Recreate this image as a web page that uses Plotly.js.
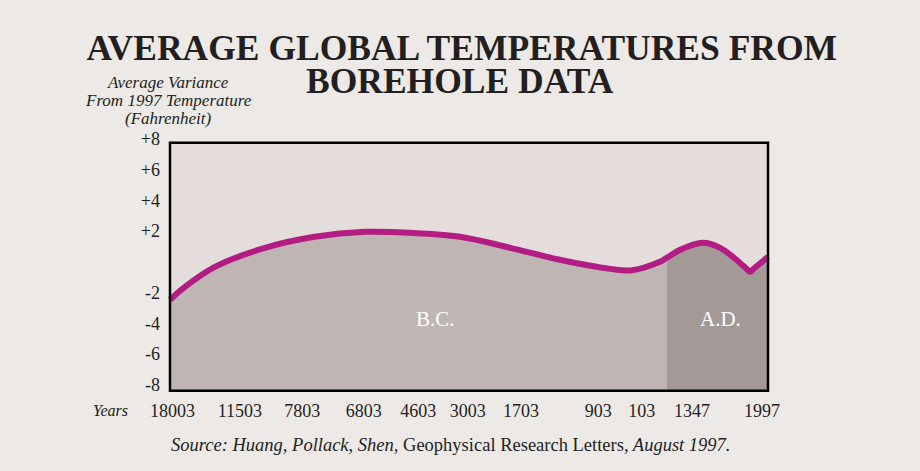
<!DOCTYPE html>
<html>
<head>
<meta charset="utf-8">
<script src="https://cdn.plot.ly/plotly-3.0.1.min.js"></script>
<style>html,body{margin:0;padding:0;background:#ede9e6;}</style>
</head>
<body>
<div id="chart" style="width:920px;height:471px;"></div>
<script>
// Axis positions are on a 0–100 scale across the (non-uniform) time axis
const yearLabels = ["18003","11503","7803","6803","4603","3003","1703","903","103","1347","1997"];
const yearPos    = [0.4, 11.7, 22.1, 32.4, 41.5, 49.8, 58.7, 71.6, 78.9, 87.3, 99.0];

const yTickVals  = [-8, -6, -4, -2, 2, 4, 6, 8];
const yTickText  = ["-8", "-6", "-4", "-2", "+2", "+4", "+6", "+8"];

// Temperature curve (variance from 1997, °F), B.C. part and A.D. part
const bcPos  = [0, 2.5, 7.5, 15.9, 24.2, 32.6, 40.1, 48.5, 56.9, 65.2, 73.6, 77.3, 81.9, 83.1];
const bcTemp = [-2.47, -1.63, -0.33, 0.91, 1.63, 1.95, 1.89, 1.63, 0.91, 0.13, -0.46, -0.55, 0.0, 0.27];
const adPos  = [83.1, 85.3, 89.1, 92.0, 94.5, 96.4, 97.0, 97.6, 100];
const adTemp = [0.27, 0.78, 1.24, 0.91, 0.2, -0.45, -0.65, -0.45, 0.33];

const xMin = 0, xMax = 100, yBottom = -8.39, yTop = 7.74, eraSplit = 83.1;

const serif = "Liberation Serif, Times New Roman, serif";
const ink = '#231f20';
const lineColor = "#b31d83";

const allPos = bcPos.concat(adPos.slice(1));
const allTemp = bcTemp.concat(adTemp.slice(1));

const traces = [
  {x:[xMin, eraSplit], y:[yBottom, yBottom], mode:'lines', line:{width:0}, hoverinfo:'skip', showlegend:false},
  {x:bcPos, y:bcTemp, mode:'lines', line:{width:0, shape:'spline'}, fill:'tonexty', fillcolor:'#bfb5b3', hoverinfo:'skip', showlegend:false},
  {x:[eraSplit, xMax], y:[yBottom, yBottom], mode:'lines', line:{width:0}, hoverinfo:'skip', showlegend:false},
  {x:adPos, y:adTemp, mode:'lines', line:{width:0, shape:'spline'}, fill:'tonexty', fillcolor:'#a39a98', hoverinfo:'skip', showlegend:false},
  {x:allPos, y:allTemp, mode:'lines', line:{width:6, color:lineColor, shape:'spline'}, showlegend:false}
];

const layout = {
  width:920, height:471,
  margin:{l:167, r:149, t:135, b:77},
  paper_bgcolor:'#ede9e6',
  plot_bgcolor:'rgba(0,0,0,0)',
  showlegend:false,
  font:{family:serif, color:ink},
  title:{
    text:'<b>AVERAGE GLOBAL TEMPERATURES FROM</b>',
    font:{family:serif, size:35.5, color:ink},
    x:0.502, xanchor:'center', yref:'container', y:0.900, yanchor:'middle'
  },
  xaxis:{
    range:[-0.5, 100.5], showgrid:false, zeroline:false, showline:false,
    tickmode:'array', tickvals:yearPos, ticktext:yearLabels, ticks:'',
    tickfont:{family:serif, size:18, color:ink}, ticklabelstandoff:4, fixedrange:true
  },
  yaxis:{
    range:[-8.6, 8.25], showgrid:false, zeroline:false, showline:false,
    tickmode:'array', tickvals:yTickVals, ticktext:yTickText, ticks:'',
    tickfont:{family:serif, size:18, color:ink}, ticklabelstandoff:6, fixedrange:true
  },
  shapes:[
    {type:'rect', xref:'x', yref:'y', x0:xMin, x1:xMax, y0:yBottom, y1:yTop, fillcolor:'#e4dddb', line:{width:0}, layer:'below'},
    {type:'rect', xref:'x', yref:'y', x0:xMin, x1:xMax, y0:yBottom, y1:yTop, fillcolor:'rgba(0,0,0,0)', line:{width:2.5, color:'#000'}, layer:'above'}
  ],
  annotations:[
    {text:'<b>BOREHOLE DATA</b>', xref:'paper', yref:'paper', x:0.4855, xanchor:'center', y:1.209, yanchor:'middle',
     showarrow:false, font:{family:serif, size:35.5, color:ink}},
    {text:'<i>Average Variance</i>', xref:'paper', yref:'paper', x:0.0017, xanchor:'center', y:1.2046, yanchor:'middle',
     showarrow:false, font:{family:serif, size:17, color:ink}},
    {text:'<i>From 1997 Temperature</i>', xref:'paper', yref:'paper', x:0.0017, xanchor:'center', y:1.1351, yanchor:'middle',
     showarrow:false, font:{family:serif, size:17, color:ink}},
    {text:'<i>(Fahrenheit)</i>', xref:'paper', yref:'paper', x:0.0017, xanchor:'center', y:1.0656, yanchor:'middle',
     showarrow:false, font:{family:serif, size:17, color:ink}},
    {text:'<i>Years</i>', xref:'paper', yref:'paper', x:-0.0613, xanchor:'right', y:-0.062, yanchor:'middle',
     showarrow:false, font:{family:serif, size:16, color:ink}},
    {text:'B.C.', xref:'x', yref:'y', x:44.4, y:-3.7, showarrow:false, font:{family:serif, size:21, color:'#ffffff'}},
    {text:'A.D.', xref:'x', yref:'y', x:92.1, y:-3.7, showarrow:false, font:{family:serif, size:21, color:'#ffffff'}},
    {text:'<i>Source: Huang, Pollack, Shen,</i> Geophysical Research Letters<i>, August 1997.</i>', xref:'paper', yref:'paper',
     x:0.470, xanchor:'center', y:-0.197, yanchor:'middle', showarrow:false,
     font:{family:serif, size:18.5, color:ink}}
  ]
};

Plotly.newPlot('chart', traces, layout, {displayModeBar:false, staticPlot:true});
</script>
</body>
</html>
